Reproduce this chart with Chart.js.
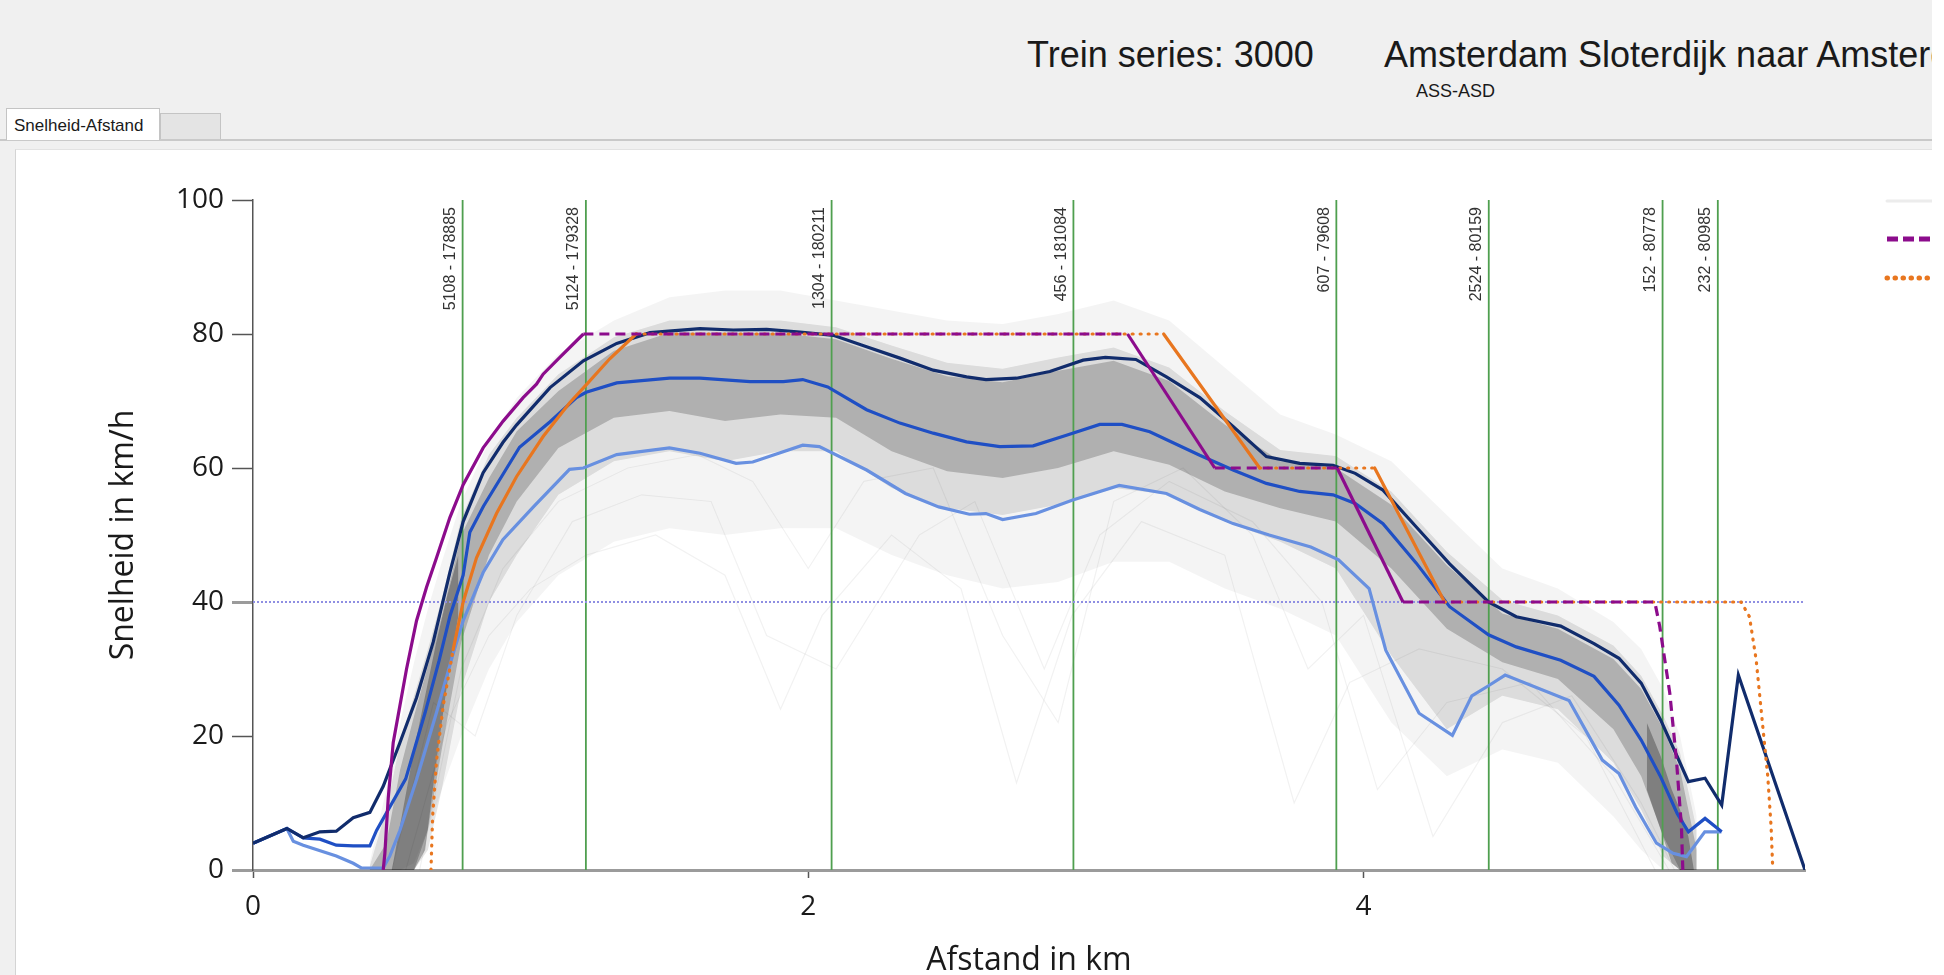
<!DOCTYPE html>
<html lang="nl">
<head>
<meta charset="utf-8">
<title>Snelheid-Afstand</title>
<script src="https://cdn.jsdelivr.net/npm/chart.js@4.4.0/dist/chart.umd.min.js"></script>
<style>
  html, body { margin: 0; padding: 0; background: #ffffff; }
  #pagina { position: relative; width: 1932px; height: 975px; overflow: hidden; background: #f0f0f0;
            font-family: "Liberation Sans", Arial, sans-serif; color: #1a1a1a; }
  .kop { position: absolute; top: 35px; font-size: 36px; line-height: 40px; white-space: nowrap; }
  #traject { position: absolute; left: 1416px; top: 81px; font-size: 18px; line-height: 20px; }
  #tablijn { position: absolute; left: 0; top: 139px; width: 1932px; height: 2px; background: #c9c9c9; }
  #tab1 { position: absolute; left: 6px; top: 108px; width: 154px; height: 32px; background: #fff;
          border: 1px solid #c4c4c4; border-bottom: none; box-sizing: border-box; }
  #tab1 span { position: absolute; left: 7px; top: 7px; font-size: 17px; line-height: 20px; }
  #tab2 { position: absolute; left: 160px; top: 113px; width: 61px; height: 26px; background: #e4e4e4;
          border: 1px solid #c4c4c4; border-bottom: none; box-sizing: border-box; }
  #paneel { position: absolute; left: 15px; top: 149px; width: 1917px; height: 826px; background: #fff;
            border-left: 1px solid #d4d4d4; border-top: 1px solid #e2e2e2; box-sizing: border-box; }
  #grafiek { position: absolute; left: 0; top: 0; }
</style>
</head>
<body>
<div id="pagina">
  <div class="kop" style="left:1027px">Trein series: 3000</div>
  <div class="kop" style="left:1384px">Amsterdam Sloterdijk naar Amsterdam Centraal</div>
  <div id="traject">ASS-ASD</div>
  <div id="tablijn"></div>
  <div id="tab2"></div>
  <div id="tab1"><span>Snelheid-Afstand</span></div>
  <div id="paneel"></div>
  <canvas id="grafiek" width="1932" height="975"></canvas>
</div>
<script>
// assen
const xTicks = [0, 2, 4];
const yTicks = [0, 20, 40, 60, 80, 100];
const grensSnelheid = 40;
const afstandMax = 5.59;

// seinen / wissels (verticale lijnen)
const markerKm = [0.755, 1.199, 2.084, 2.955, 3.902, 4.451, 5.077, 5.276];
const markerLabels = ['5108 - 178885', '5124 - 179328', '1304 - 180211', '456 - 181084',
                      '607 - 79608', '2524 - 80159', '152 - 80778', '232 - 80985'];

// snelheidsprofiel baanvak (paars)
const paarsKm  = [0.469, 0.475, 0.487, 0.505, 0.529, 0.553, 0.589, 0.625, 0.661, 0.709, 0.757, 0.829, 0.901, 0.973, 1.021, 1.045, 1.105, 1.19, 3.15, 3.464, 3.905, 4.142, 5.049, 5.067, 5.103, 5.127, 5.145, 5.15];
const paarsKmh = [0, 2.5, 10.7, 19, 24.5, 30, 37.2, 42.2, 46.6, 52.6, 57.5, 63, 67, 70.5, 72.5, 74, 76.5, 80, 80, 60, 60, 40, 40, 36.3, 26.4, 16.4, 6.4, 0];

// rijcurve (oranje)
const oranjeKm  = [0.641, 0.647, 0.661, 0.685, 0.721, 0.757, 0.805, 0.877, 0.949, 1.045, 1.14, 1.2, 1.285, 1.38, 3.28, 3.626, 4.04, 4.292, 5.36, 5.39, 5.414, 5.438, 5.456, 5.468, 5.474];
const oranjeKmh = [0, 8, 16.3, 24.5, 32.9, 40, 46.6, 53.2, 58.7, 64.7, 69.7, 72.4, 76.3, 80, 80, 60, 60, 40, 40, 37.8, 31.4, 21.4, 13.9, 6.4, 0];

// hoogste lijn (donkerblauw)
const hoogKm  = [0, 0.122, 0.181, 0.241, 0.30, 0.361, 0.421, 0.469, 0.529, 0.589, 0.649, 0.709, 0.757, 0.829, 0.90, 0.949, 1.07, 1.19, 1.31, 1.43, 1.61, 1.73, 1.85, 1.97, 2.09, 2.21, 2.33, 2.45, 2.57, 2.64, 2.75, 2.87, 2.99, 3.07, 3.18, 3.29, 3.41, 3.53, 3.65, 3.77, 3.89, 3.97, 4.07, 4.19, 4.31, 4.45, 4.55, 4.71, 4.83, 4.92, 5.0, 5.07, 5.13, 5.17, 5.23, 5.29, 5.35, 5.59];
const hoogKmh = [4, 6.2, 4.8, 5.7, 5.8, 7.8, 8.6, 12.5, 19, 25.7, 34, 44.4, 52, 59.3, 63.8, 66.4, 72, 76, 78.6, 80.2, 80.8, 80.6, 80.7, 80.3, 79.8, 78.1, 76.4, 74.6, 73.6, 73.2, 73.4, 74.4, 76.1, 76.5, 76.2, 73.6, 70.5, 66.2, 61.7, 60.7, 60.4, 59.2, 56.7, 51.2, 45.7, 40, 37.8, 36.4, 33.8, 31.6, 27.9, 22.4, 16.9, 13.2, 13.7, 9.7, 29.1, 0];

// middelste lijn (blauw)
const middenKm  = [0, 0.122, 0.181, 0.241, 0.30, 0.361, 0.421, 0.445, 0.55, 0.62, 0.67, 0.71, 0.757, 0.781, 0.83, 0.96, 1.07, 1.165, 1.2, 1.31, 1.5, 1.61, 1.79, 1.91, 1.98, 2.07, 2.21, 2.33, 2.45, 2.57, 2.69, 2.81, 2.93, 3.05, 3.13, 3.23, 3.41, 3.53, 3.65, 3.77, 3.89, 3.97, 4.07, 4.19, 4.31, 4.45, 4.55, 4.71, 4.83, 4.92, 5.0, 5.07, 5.13, 5.17, 5.23, 5.29];
const middenKmh = [4, 6.2, 4.8, 4.6, 3.7, 3.6, 3.6, 5.9, 13.6, 23.5, 31.2, 38, 44, 50.4, 54.3, 63.1, 66.9, 70.5, 71.3, 72.7, 73.4, 73.4, 72.9, 72.9, 73.2, 72.1, 68.7, 66.7, 65.2, 63.9, 63.2, 63.3, 64.9, 66.5, 66.5, 65.4, 61.9, 59.7, 57.7, 56.5, 56.0, 54.7, 51.7, 45.8, 39.3, 35.1, 33.3, 31.3, 28.9, 24.6, 19.4, 13.9, 8.4, 5.7, 7.7, 5.7];

// laagste lijn (lichtblauw)
const laagKm  = [0, 0.122, 0.145, 0.181, 0.30, 0.361, 0.39, 0.469, 0.493, 0.529, 0.589, 0.661, 0.721, 0.757, 0.829, 0.90, 1.01, 1.14, 1.19, 1.31, 1.50, 1.61, 1.74, 1.80, 1.98, 2.04, 2.21, 2.35, 2.47, 2.58, 2.64, 2.70, 2.82, 2.95, 3.12, 3.29, 3.41, 3.53, 3.66, 3.81, 3.91, 4.02, 4.08, 4.20, 4.32, 4.39, 4.45, 4.51, 4.74, 4.86, 4.92, 4.98, 5.055, 5.115, 5.163, 5.229, 5.289];
const laagKmh = [4, 6.2, 4.3, 3.7, 2.1, 1.0, 0.3, 0.3, 2.1, 5.9, 13.5, 23.5, 32.3, 37.2, 44.4, 49.3, 54.2, 59.8, 60, 62, 63, 62.2, 60.7, 60.9, 63.4, 63.2, 59.7, 56.2, 54.2, 53.1, 53.2, 52.3, 53.2, 55.2, 57.4, 56.2, 53.8, 51.7, 50.0, 48.2, 46.3, 42.0, 32.8, 23.4, 20.1, 26.0, 27.5, 29.1, 25.3, 16.4, 14.4, 9.4, 4.0, 2.5, 2.0, 5.7, 5.7];

// bundel gemeten ritten: randen van de grijze banden
const bandKm        = [0.42, 0.48, 0.53, 0.58, 0.63, 0.68, 0.75, 0.85, 0.95, 1.1, 1.3, 1.5, 1.7, 1.9, 2.1, 2.3, 2.5, 2.7, 2.9, 3.1, 3.3, 3.5, 3.7, 3.9, 4.1, 4.3, 4.5, 4.7, 4.9, 5.0, 5.08, 5.14, 5.2];
const buitenBoven   = [1, 12, 22, 31, 39, 46, 55, 64, 70.5, 77, 82, 85.5, 86.5, 86.5, 85, 83.5, 82, 81.5, 83, 85, 82, 75, 68, 65, 61, 53, 45, 42, 37, 33, 27, 20, 8];
const buitenOnder   = [0, 0, 0, 1, 6, 12, 20, 30, 37, 44, 49, 51, 50, 51, 51, 47, 44, 42, 43, 46, 46, 42, 39, 35, 22, 14, 18, 16, 8, 3, 0, 0, 0];
const middenBoven   = [0.5, 9, 19, 26, 33, 40.5, 52.5, 62, 67.5, 74, 79.5, 82, 82, 82, 81, 78.3, 75.7, 74.8, 76.5, 78, 75, 68.5, 62.7, 61.8, 56.5, 47.5, 40.3, 38, 33.5, 29, 23, 17.5, 6];
const middenOnder   = [0, 0, 0, 0, 3, 12, 27, 40, 47, 56, 61, 62.5, 61, 62.5, 62.5, 57, 54, 53, 54.5, 57, 56, 52, 49, 45, 32, 21, 26, 24, 16, 9, 2, 0, 0];
const kernBoven     = [0, 4, 15, 23, 30.5, 38, 50, 58.5, 65.5, 71.5, 77.5, 80.2, 80.2, 80.1, 79.2, 76.3, 73.7, 72.8, 74.5, 76, 73, 66.5, 61, 60, 54.5, 45.5, 38.3, 36, 31.5, 27, 21, 15, 3];
const kernOnder     = [0, 0, 0, 0, 6, 18, 34, 47, 55, 63, 67.5, 68.5, 67, 68, 67.5, 62.5, 59.5, 58.5, 60, 62.5, 60.5, 56.5, 54, 52, 45, 36, 31, 28.5, 21, 14, 5, 0, 0];

// dichte clusters bij vertrek en aankomst
const vertrekKm     = [0.50, 0.54, 0.58, 0.62, 0.66, 0.70, 0.74];
const vertrekBoven  = [0, 9, 18, 26, 34, 41, 47];
const vertrekOnder  = [0, 0, 0, 3, 16, 28, 38];
const aankomstKm    = [5.02, 5.07, 5.11, 5.14, 5.17, 5.19];
const aankomstBoven = [22, 17, 12, 9, 5, 0];
const aankomstOnder = [12, 6, 1, 0, 0, 0];

// enkele afwijkende ritten
const rit1Km  = [0.55, 0.7, 0.85, 1.0, 1.2, 1.45, 1.7, 1.9, 2.05, 2.3, 2.55, 2.75, 2.95, 3.2, 3.5, 3.75, 3.95, 4.2, 4.5, 4.8, 5.05];
const rit1Kmh = [0, 22, 35, 42, 47, 50, 44, 24, 38, 50, 42, 13, 38, 52, 47, 10, 28, 33, 30, 20, 0];
const rit2Km  = [0.5, 0.65, 0.8, 0.95, 1.15, 1.4, 1.65, 1.85, 2.1, 2.4, 2.6, 2.85, 3.05, 3.3, 3.6, 3.85, 4.05, 4.3, 4.6, 4.9, 5.1];
const rit2Kmh = [0, 25, 20, 38, 52, 56, 55, 35, 30, 50, 55, 30, 50, 58, 52, 40, 12, 25, 28, 14, 0];
const rit3Km  = [0.6, 0.75, 0.9, 1.1, 1.35, 1.6, 1.8, 2.0, 2.2, 2.45, 2.7, 2.9, 3.1, 3.35, 3.6, 3.8, 4.0, 4.25, 4.5, 4.75, 5.0, 5.12];
const rit3Kmh = [0, 30, 45, 55, 60, 62, 58, 45, 58, 60, 35, 22, 55, 60, 50, 30, 38, 5, 22, 26, 10, 0];

const punten = (km, kmh) => km.map((v, i) => ({ x: v, y: kmh[i] }));

// stippel/streep alleen op vlakke stukken (en de laatste afremming)
function streepOp(patroon, extra) {
    return ctx => {
        const a = ctx.p0.parsed, b = ctx.p1.parsed;
        return (a.y === b.y || extra(a, b)) ? patroon : [];
    };
}

const basis = { pointRadius: 0, pointHoverRadius: 0, tension: 0, fill: false };

const datasets = [
    Object.assign({ label: 'Snelheidsprofiel', data: punten(paarsKm, paarsKmh), borderColor: '#8c0c8c', borderWidth: 3.2,
        borderDash: [10, 6], legendaRij: 1,
        segment: { borderDash: streepOp([10, 6], a => a.x >= 5) } }, basis),
    Object.assign({ label: 'Rijcurve', data: punten(oranjeKm, oranjeKmh), borderColor: '#e8761f', borderWidth: 3.2,
        borderDash: [1, 7], borderCapStyle: 'round', legendaRij: 2,
        segment: { borderDash: streepOp([1, 7], (a, b) => a.x >= 5.3 || (a.x < 1 && b.y <= 38)) } }, basis),
    Object.assign({ label: 'Hoog', data: punten(hoogKm, hoogKmh), borderColor: '#112c6c', borderWidth: 3.2 }, basis),
    Object.assign({ label: 'Midden', data: punten(middenKm, middenKmh), borderColor: '#1f4fc4', borderWidth: 3.2 }, basis),
    Object.assign({ label: 'Laag', data: punten(laagKm, laagKmh), borderColor: '#6890e0', borderWidth: 3.2 }, basis),
    Object.assign({ label: '40 km/h', data: punten([0, afstandMax], [grensSnelheid, grensSnelheid]),
        borderColor: '#8f8fe2', borderWidth: 2, borderDash: [2, 2] }, basis)
];

markerKm.forEach((km, i) => {
    datasets.push(Object.assign({ label: markerLabels[i], data: punten([km, km], [0, 100]),
        borderColor: '#4f9f4f', borderWidth: 1.8 }, basis));
});

[[rit1Km, rit1Kmh], [rit2Km, rit2Kmh], [rit3Km, rit3Kmh]].forEach(([km, kmh], i) => {
    datasets.push(Object.assign({ label: 'Rit ' + (i + 1), data: punten(km, kmh),
        borderColor: 'rgba(0,0,0,0.055)', borderWidth: 1.2 }, basis));
});

const banden = [
    ['Ritten (vertrek)', vertrekKm, vertrekBoven, vertrekOnder, 'rgba(0,0,0,0.28)'],
    ['Ritten (aankomst)', aankomstKm, aankomstBoven, aankomstOnder, 'rgba(0,0,0,0.28)'],
    ['Ritten (kern)', bandKm, kernBoven, kernOnder, 'rgba(0,0,0,0.2)'],
    ['Ritten (midden)', bandKm, middenBoven, middenOnder, 'rgba(0,0,0,0.1)'],
    ['Ritten', bandKm, buitenBoven, buitenOnder, 'rgba(0,0,0,0.045)']
];
banden.forEach(([label, km, boven, onder, kleur]) => {
    datasets.push(Object.assign({}, basis, { label, data: punten(km, boven), borderWidth: 0,
        borderColor: 'rgba(0,0,0,0)', backgroundColor: kleur, fill: '+1',
        legendaRij: label === 'Ritten' ? 0 : undefined }));
    datasets.push(Object.assign({}, basis, { label: label + ' onder', data: punten(km, onder), borderWidth: 0,
        borderColor: 'rgba(0,0,0,0)' }));
});

// teksten bij de verticale lijnen
const markerTekst = {
    id: 'markerTekst',
    afterDatasetsDraw(chart) {
        const { ctx, scales: { x } } = chart;
        ctx.save();
        ctx.font = '16px "Liberation Sans", Arial, sans-serif';
        ctx.fillStyle = '#333';
        ctx.textAlign = 'right';
        ctx.textBaseline = 'middle';
        markerKm.forEach((km, i) => {
            ctx.save();
            ctx.translate(x.getPixelForValue(km) - 12, 207);
            ctx.rotate(-Math.PI / 2);
            ctx.fillText(markerLabels[i], 0, 0);
            ctx.restore();
        });
        ctx.restore();
    }
};

// legenda rechts (valt deels buiten beeld)
const legenda = {
    id: 'legenda',
    afterDraw(chart) {
        const ctx = chart.ctx;
        const rijY = [201, 239, 278];
        ctx.save();
        chart.data.datasets.forEach(ds => {
            if (ds.legendaRij === undefined) return;
            const y = rijY[ds.legendaRij];
            ctx.beginPath();
            ctx.moveTo(1887, y);
            ctx.lineTo(1960, y);
            if (ds.legendaRij === 0) {
                ctx.strokeStyle = '#ececec'; ctx.lineWidth = 3; ctx.setLineDash([]);
            } else if (ds.legendaRij === 1) {
                ctx.strokeStyle = ds.borderColor; ctx.lineWidth = 5; ctx.setLineDash([11, 5]); ctx.lineCap = 'butt';
            } else {
                ctx.strokeStyle = ds.borderColor; ctx.lineWidth = 5; ctx.setLineDash([0.5, 7.5]); ctx.lineCap = 'round';
            }
            ctx.stroke();
            ctx.fillStyle = '#222';
            ctx.font = '16px "Liberation Sans", Arial, sans-serif';
            ctx.textBaseline = 'middle';
            ctx.fillText(ds.label, 1966, y);
        });
        ctx.restore();
    }
};

const asFont = { family: '"Open Sans", "DejaVu Sans", sans-serif', size: 28 };
const titelFont = { family: '"Open Sans", "DejaVu Sans", sans-serif', size: 32, lineHeight: 1 };

new Chart(document.getElementById('grafiek'), {
    type: 'line',
    data: { datasets },
    options: {
        responsive: false,
        devicePixelRatio: 1,
        animation: false,
        events: [],
        layout: { padding: { left: 0, top: 200, right: 127, bottom: 0 } },
        plugins: { legend: { display: false }, tooltip: { enabled: false } },
        scales: {
            x: {
                type: 'linear', min: 0, max: afstandMax,
                afterBuildTicks: s => { s.ticks = xTicks.map(v => ({ value: v })); },
                afterFit: s => { s.height = 105; },
                ticks: { padding: 12, color: '#1a1a1a', font: asFont, maxRotation: 0 },
                grid: { drawOnChartArea: false, drawTicks: true, tickLength: 8, tickColor: '#555', tickWidth: 1.5 },
                border: { color: '#9b9b9b', width: 3 },
                title: { display: true, text: 'Afstand in km', color: '#1a1a1a', font: titelFont, padding: { top: 0, bottom: -2 } }
            },
            y: {
                min: 0, max: 100,
                afterBuildTicks: s => { s.ticks = yTicks.map(v => ({ value: v })); },
                afterFit: s => { s.width = 253; },
                ticks: { padding: 8, color: '#1a1a1a', font: asFont },
                grid: {
                    drawOnChartArea: false, drawTicks: true, tickLength: 21,
                    tickColor: c => (c.tick.value === 0 || c.tick.value === 40) ? '#9b9b9b' : '#555',
                    tickWidth: c => (c.tick.value === 0 || c.tick.value === 40) ? 3 : 1.5
                },
                border: { color: '#555', width: 1.5 },
                title: { display: true, text: 'Snelheid in km/h', color: '#1a1a1a', font: titelFont, padding: { top: 108, bottom: 0 } }
            }
        }
    },
    plugins: [markerTekst, legenda]
});
</script>
</body>
</html>
